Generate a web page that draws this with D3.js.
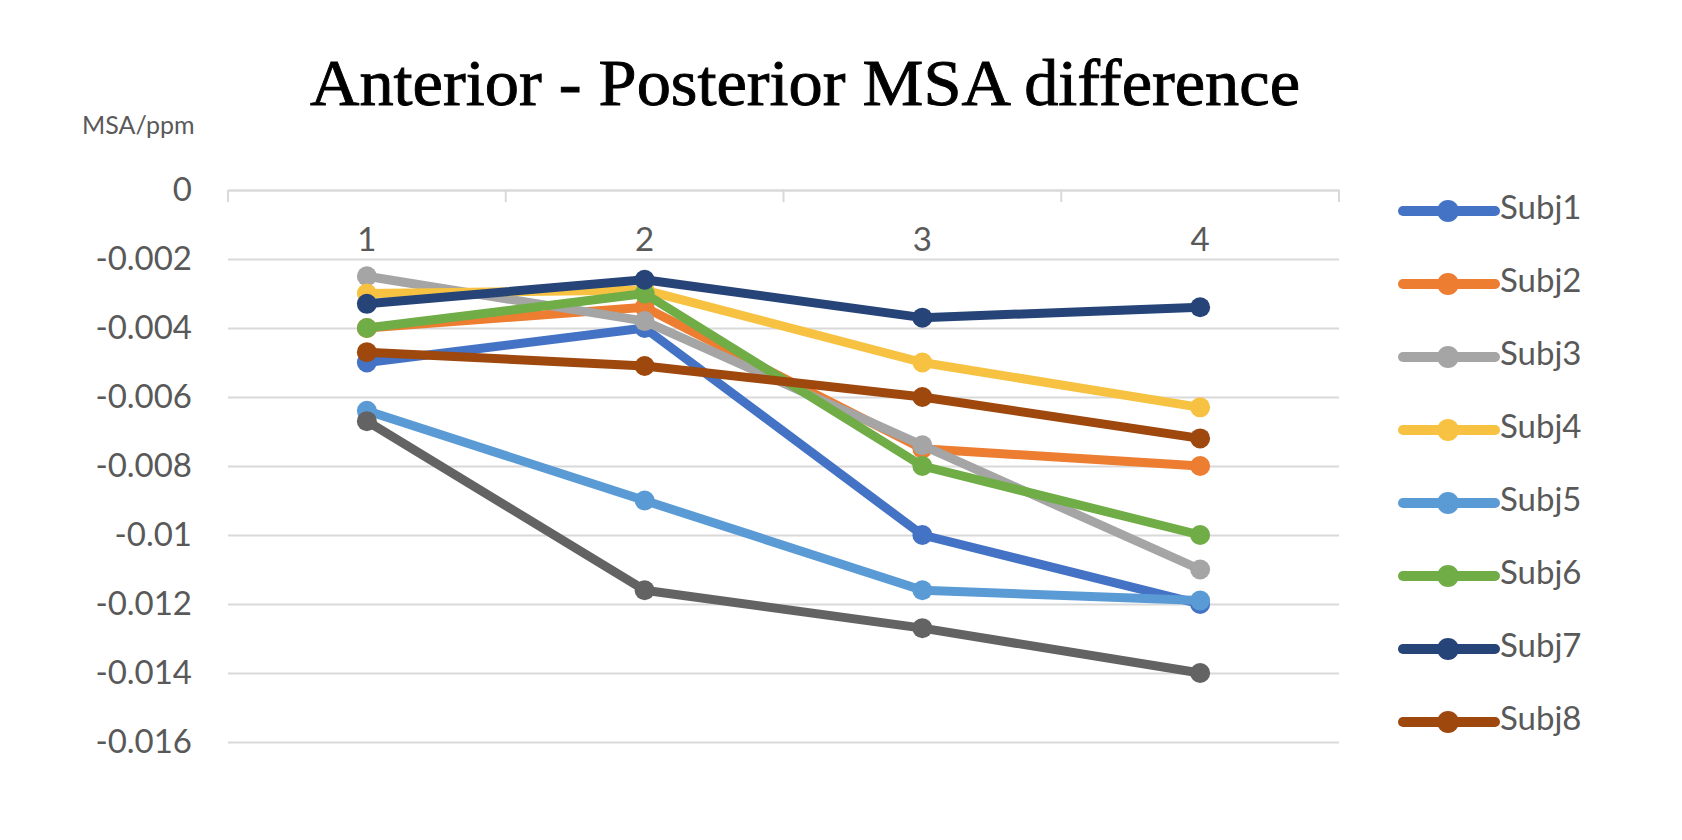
<!DOCTYPE html>
<html>
<head>
<meta charset="utf-8">
<script src="https://cdn.jsdelivr.net/npm/d3@7"></script>
<style>
  html, body { margin: 0; padding: 0; background: #fff; }
  svg { display: block; }
</style>
</head>
<body>
<svg id="chart" width="1682" height="840"></svg>
<script>
// ---- Data ----
const categories = ["1", "2", "3", "4"];
const seriesNames = ["Subj1", "Subj2", "Subj3", "Subj4", "Subj5", "Subj6", "Subj7", "Subj8", "Subj9"];
const subj1 = [-0.0050, -0.0040, -0.0100, -0.0120];
const subj2 = [-0.0040, -0.0034, -0.0075, -0.0080];
const subj3 = [-0.0025, -0.0038, -0.0074, -0.0110];
const subj4 = [-0.0030, -0.0029, -0.0050, -0.0063];
const subj5 = [-0.0064, -0.0090, -0.0116, -0.0119];
const subj6 = [-0.0040, -0.0030, -0.0080, -0.0100];
const subj7 = [-0.0033, -0.0026, -0.0037, -0.0034];
const subj8 = [-0.0047, -0.0051, -0.0060, -0.0072];
const subj9 = [-0.0067, -0.0116, -0.0127, -0.0140];
const seriesValues = [subj1, subj2, subj3, subj4, subj5, subj6, subj7, subj8, subj9];
const yTicks = [0, -0.002, -0.004, -0.006, -0.008, -0.010, -0.012, -0.014, -0.016];
const colors = ["#4472C4", "#ED7D31", "#A5A5A5", "#F7C242", "#5B9BD5", "#70AD47", "#264478", "#9E480E", "#636363"];
const legendCount = 8; // legend shows only the first 8 entries (as in the reference)

// ---- Layout ----
const svg = d3.select("#chart");
const plot = { left: 228, right: 1339, top: 190, bottom: 742 };
const textColor = "#595959";
const gridColor = "#D9D9D9";
const fontSans = "Lato, 'Open Sans', sans-serif";
const labelSize = 33;

const x = d3.scaleBand().domain(categories).range([plot.left, plot.right]).paddingInner(0).paddingOuter(0);
const y = d3.scaleLinear().domain([-0.016, 0]).range([plot.bottom, plot.top]);

// Title
svg.append("text")
  .attr("x", 805).attr("y", 105)
  .attr("text-anchor", "middle")
  .attr("font-family", "'Liberation Serif', 'DejaVu Serif', serif")
  .attr("font-size", 66)
  .attr("fill", "#000")
  .attr("stroke", "#000")
  .attr("stroke-width", 0.9)
  .attr("textLength", 990)
  .attr("lengthAdjust", "spacingAndGlyphs")
  .text("Anterior - Posterior MSA difference");

// Y unit label
svg.append("text")
  .attr("x", 82).attr("y", 134)
  .attr("font-family", fontSans)
  .attr("font-size", 25)
  .attr("fill", textColor)
  .text("MSA/ppm");

// Y axis with gridlines
const fmt = d => d === 0 ? "0" : String(+d.toFixed(3));
const yAxis = d3.axisLeft(y)
  .tickValues(yTicks)
  .tickSize(-(plot.right - plot.left))
  .tickPadding(36)
  .tickFormat(fmt);
const gy = svg.append("g").attr("transform", `translate(${plot.left},0)`).call(yAxis);
gy.select(".domain").remove();
gy.selectAll(".tick line").attr("stroke", gridColor).attr("stroke-width", 2);
gy.selectAll(".tick text")
  .attr("font-family", fontSans)
  .attr("font-size", labelSize)
  .attr("fill", textColor);

// X axis (at y = 0) with category labels below, ticks at band edges
const xAxis = d3.axisBottom(x).tickSize(0).tickPadding(38);
const gx = svg.append("g").attr("transform", `translate(0,${y(0)})`).call(xAxis);
gx.select(".domain").attr("stroke", gridColor).attr("stroke-width", 2);
gx.selectAll(".tick text")
  .attr("font-family", fontSans)
  .attr("font-size", labelSize)
  .attr("fill", textColor);
const edges = categories.map(c => x(c)).concat([x(categories[categories.length - 1]) + x.bandwidth()]);
gx.selectAll(".edge").data(edges).enter().append("line")
  .attr("class", "edge")
  .attr("x1", d => d).attr("x2", d => d)
  .attr("y1", 0).attr("y2", 12)
  .attr("stroke", gridColor).attr("stroke-width", 2);

// Series
const line = d3.line()
  .x((d, i) => x(categories[i]) + x.bandwidth() / 2)
  .y(d => y(d));

seriesValues.forEach((vals, si) => {
  const g = svg.append("g").attr("class", "series");
  g.append("path")
    .datum(vals)
    .attr("d", line)
    .attr("fill", "none")
    .attr("stroke", colors[si])
    .attr("stroke-width", 9)
    .attr("stroke-linejoin", "round")
    .attr("stroke-linecap", "round");
  g.selectAll("circle").data(vals).enter().append("circle")
    .attr("cx", (d, i) => x(categories[i]) + x.bandwidth() / 2)
    .attr("cy", d => y(d))
    .attr("r", 10)
    .attr("fill", colors[si]);
});

// Legend
const legend = svg.append("g");
seriesNames.slice(0, legendCount).forEach((name, i) => {
  const ly = 211 + i * 73;
  const g = legend.append("g");
  g.append("line")
    .attr("x1", 1403).attr("x2", 1495)
    .attr("y1", ly).attr("y2", ly)
    .attr("stroke", colors[i]).attr("stroke-width", 10)
    .attr("stroke-linecap", "round");
  g.append("circle").attr("cx", 1448).attr("cy", ly).attr("r", 11).attr("fill", colors[i]);
  g.append("text")
    .attr("x", 1500).attr("y", ly + 8)
    .attr("font-family", fontSans)
    .attr("font-size", labelSize)
    .attr("fill", textColor)
    .text(name);
});
</script>
</body>
</html>
